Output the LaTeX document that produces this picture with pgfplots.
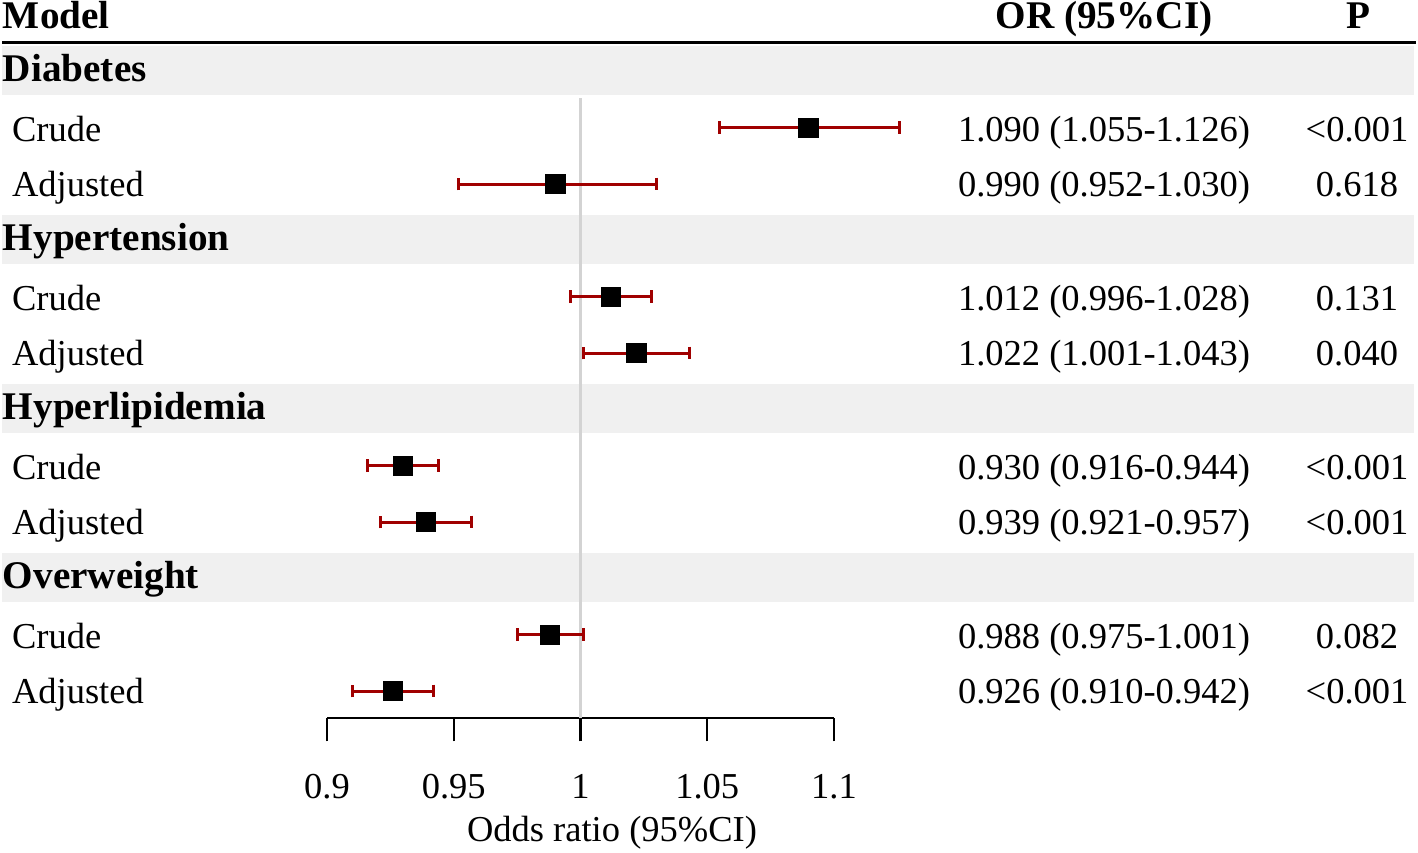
\documentclass[border=0pt]{standalone}
\usepackage{pgfplots}
\usepackage{pgfplotstable}
\pgfplotsset{compat=1.18}
\usepackage{fontspec}
\setmainfont{Liberation Serif}
\definecolor{barred}{RGB}{160,0,0}
\definecolor{bandgray}{RGB}{240,240,240}
\definecolor{refgray}{RGB}{211,211,211}
\newcommand{\rf}{\fontsize{18.25pt}{21pt}\selectfont}
\newcommand{\bff}{\fontsize{19.6pt}{23pt}\selectfont\bfseries}
\pgfplotstableread{
y      or    lo    hi
-127.7 1.090 1.055 1.126
-184.0 0.990 0.952 1.030
-296.7 1.012 0.996 1.028
-353.0 1.022 1.001 1.043
-465.7 0.930 0.916 0.944
-522.0 0.939 0.921 0.957
-634.7 0.988 0.975 1.001
-691.0 0.926 0.910 0.942
}\datatable
\begin{document}
\begin{tikzpicture}
\begin{scope}[x=0.5pt,y=-0.5pt]
% bands
\foreach \k in {0,1,2,3}{
  \fill[bandgray] (2,{46+169*\k}) rectangle (1414,{95+169*\k});
}
% header rule
\draw[black, line width=1.5pt] (2,42) -- (1416,42);
\end{scope}
\begin{axis}[
  at={(163.5pt,-359pt)}, anchor=south west,
  scale only axis, width=253.5pt, height=359pt,
  xmin=0.9, xmax=1.1, ymin=-718, ymax=0,
  axis x line*=bottom, axis y line=none,
  xtick={0.9,0.95,1,1.05,1.1},
  xticklabels={0.9,0.95,1,1.05,1.1},
  tick align=outside, major tick length=11.7pt,
  every tick/.style={black, line width=1.2pt},
  axis line style={black, line width=1.2pt},
  xticklabel style={font=\rf, anchor=base, yshift=-28.5pt},
  clip=false,
]
\draw[refgray, line width=1.5pt] (axis cs:1,-98) -- (axis cs:1,-718);
\addplot[only marks, mark=square*, mark size=4.9pt,
  mark options={black, fill=black, line width=0.4pt},
  error bars/.cd, x dir=both, x explicit,
  error bar style={line width=1.5pt, barred},
  error mark options={rotate=90, line width=1.5pt, mark size=3.2pt, barred}]
  table[x=or, y=y, x error plus expr=\thisrow{hi}-\thisrow{or},
        x error minus expr=\thisrow{or}-\thisrow{lo}] {\datatable};
\end{axis}
\begin{scope}[x=0.5pt,y=-0.5pt]
\tikzset{every node/.style={inner sep=0pt, outer sep=0pt}}
% headers
\node[anchor=base west, font=\bff] at (3,28.5) {Model};
\node[anchor=base, font=\bff] at (1104,28.5) {OR (95\%CI)};
\node[anchor=base, font=\bff] at (1358,28.5) {P};
% groups
\node[anchor=base west, font=\bff] at (3,81) {Diabetes};
\node[anchor=base west, font=\bff] at (3,250) {Hypertension};
\node[anchor=base west, font=\bff] at (3,419) {Hyperlipidemia};
\node[anchor=base west, font=\bff] at (3,588) {Overweight};
% rows
\foreach \k in {0,1,2,3}{
  \node[anchor=base west, font=\rf] at (12,{141.7+169*\k}) {Crude};
  \node[anchor=base west, font=\rf] at (12,{196.7+169*\k}) {Adjusted};
}
\node[anchor=base, font=\rf] at (1104,141.7) {1.090 (1.055-1.126)};
\node[anchor=base, font=\rf] at (1104,196.7) {0.990 (0.952-1.030)};
\node[anchor=base, font=\rf] at (1104,310.7) {1.012 (0.996-1.028)};
\node[anchor=base, font=\rf] at (1104,365.7) {1.022 (1.001-1.043)};
\node[anchor=base, font=\rf] at (1104,479.7) {0.930 (0.916-0.944)};
\node[anchor=base, font=\rf] at (1104,534.7) {0.939 (0.921-0.957)};
\node[anchor=base, font=\rf] at (1104,648.7) {0.988 (0.975-1.001)};
\node[anchor=base, font=\rf] at (1104,703.7) {0.926 (0.910-0.942)};
\node[anchor=base, font=\rf] at (1357,141.7) {<0.001};
\node[anchor=base, font=\rf] at (1357,196.7) {0.618};
\node[anchor=base, font=\rf] at (1357,310.7) {0.131};
\node[anchor=base, font=\rf] at (1357,365.7) {0.040};
\node[anchor=base, font=\rf] at (1357,479.7) {<0.001};
\node[anchor=base, font=\rf] at (1357,534.7) {<0.001};
\node[anchor=base, font=\rf] at (1357,648.7) {0.082};
\node[anchor=base, font=\rf] at (1357,703.7) {<0.001};
% x label
\node[anchor=base, font=\rf] at (612,841.7) {Odds ratio (95\%CI)};
\pgfresetboundingbox
\path (0,0) rectangle (1418,852);
\end{scope}
\end{tikzpicture}
\end{document}
